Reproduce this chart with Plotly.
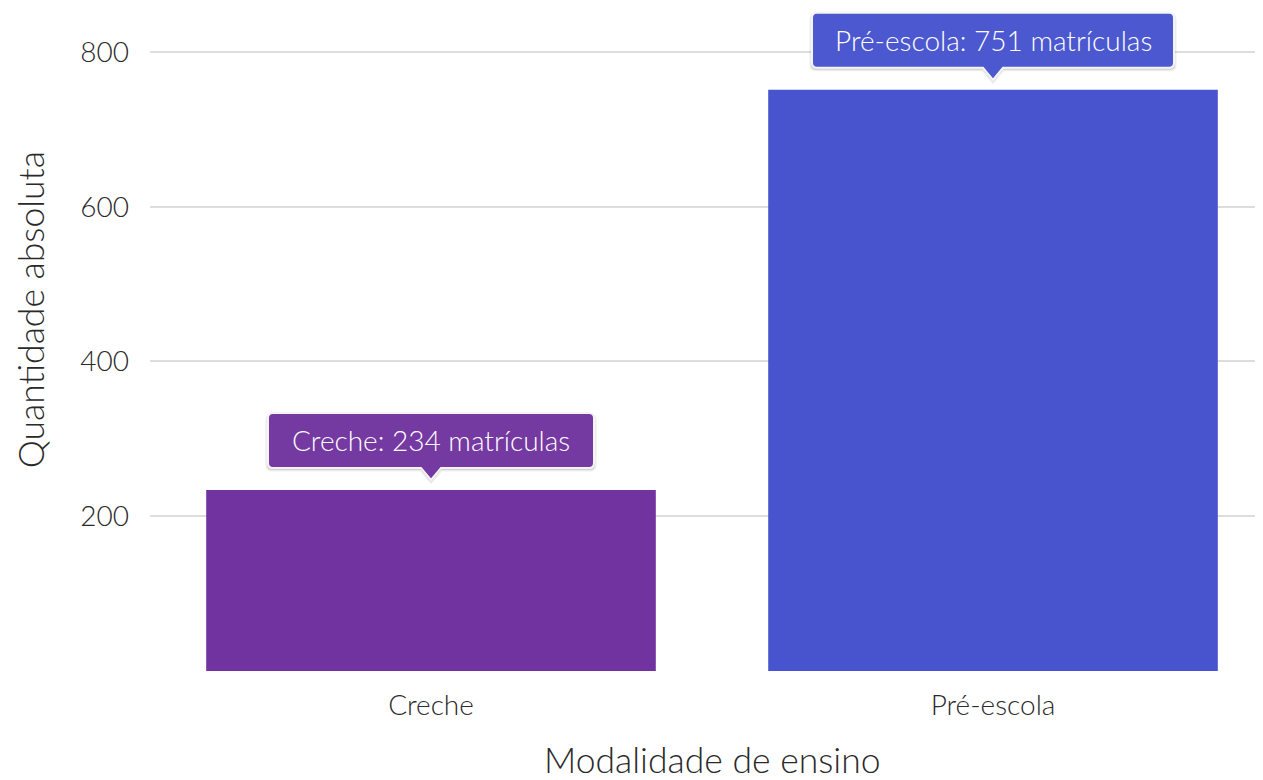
import plotly.graph_objects as go

categories = ["Creche", "Pré-escola"]
values = [234, 751]
colors = ["#7033A0", "#4754CE"]
box_colors = ["#7539A2", "#4C58CF"]
box_widths = [326, 362]
y_ticks = [200, 400, 600, 800]
x_title = "Modalidade de ensino"
y_title = "Quantidade absoluta"

FONT = "Lato Light, Lato"
TXT = "#2a2a2a"


def callout_path(w, h=55, base=22, r=5, tri=10, tip=10):
    L, R, B, T = -w / 2, w / 2, base, base + h
    return (
        f"M {L + r} {B} L {-tri} {B} L 0 {tip} L {tri} {B} L {R - r} {B} "
        f"Q {R} {B} {R} {B + r} L {R} {T - r} Q {R} {T} {R - r} {T} "
        f"L {L + r} {T} Q {L} {T} {L} {T - r} L {L} {B + r} Q {L} {B} {L + r} {B} Z"
    )


fig = go.Figure()
fig.add_trace(go.Bar(
    x=categories, y=values, marker=dict(color=colors, line=dict(width=0)),
    width=0.8, hoverinfo="skip", showlegend=False,
))

for i, (cat, val) in enumerate(zip(categories, values)):
    # soft shadow
    fig.add_shape(
        type="path", xref="x", yref="y", xsizemode="pixel", ysizemode="pixel",
        xanchor=i, yanchor=val, path=callout_path(box_widths[i] + 2, base=20, tip=8),
        fillcolor="rgba(0,0,0,0.12)", line=dict(color="rgba(0,0,0,0.07)", width=3), layer="above",
    )
    fig.add_shape(
        type="path", xref="x", yref="y", xsizemode="pixel", ysizemode="pixel",
        xanchor=i, yanchor=val, path=callout_path(box_widths[i]),
        fillcolor=box_colors[i], line=dict(color="#f4f4f4", width=2), layer="above",
    )
    fig.add_annotation(
        x=cat, y=val, yanchor="middle", xanchor="center", yshift=50,
        text=f"{cat}: {val} matrículas", showarrow=False,
        font=dict(family=FONT, size=28, color="white", weight=300),
    )

# axis titles
fig.add_annotation(
    xref="paper", yref="paper", x=0.5054, y=0, yshift=-88, xanchor="center", yanchor="middle",
    text=x_title, showarrow=False, font=dict(size=35.5, family=FONT, weight=300, color=TXT),
)
fig.add_annotation(
    xref="paper", yref="paper", x=0, xshift=-120, y=0.544, xanchor="center", yanchor="middle",
    text=y_title, textangle=-90, showarrow=False,
    font=dict(size=35.5, family=FONT, weight=300, color=TXT),
)

fig.update_layout(
    width=1255, height=772,
    margin=dict(l=142, r=0, t=0, b=109),
    plot_bgcolor="white", paper_bgcolor="white",
    font=dict(family=FONT, color=TXT, weight=300),
    bargap=0.2,
)
fig.update_xaxes(
    range=[-0.5, 1.4804], showgrid=False, zeroline=False, showline=False, ticks="",
    ticklabelstandoff=15, automargin=False,
    tickfont=dict(size=28, family=FONT, weight=300, color=TXT),
    fixedrange=True,
)
fig.update_yaxes(
    range=[0, 856.8], tickvals=y_ticks, showgrid=True, gridcolor="#dddddd", gridwidth=2,
    zeroline=False, showline=False, ticks="", ticklabelstandoff=20, automargin=False,
    tickfont=dict(size=28, family=FONT, weight=300, color=TXT),
    fixedrange=True,
)

fig.write_html("out.html")
